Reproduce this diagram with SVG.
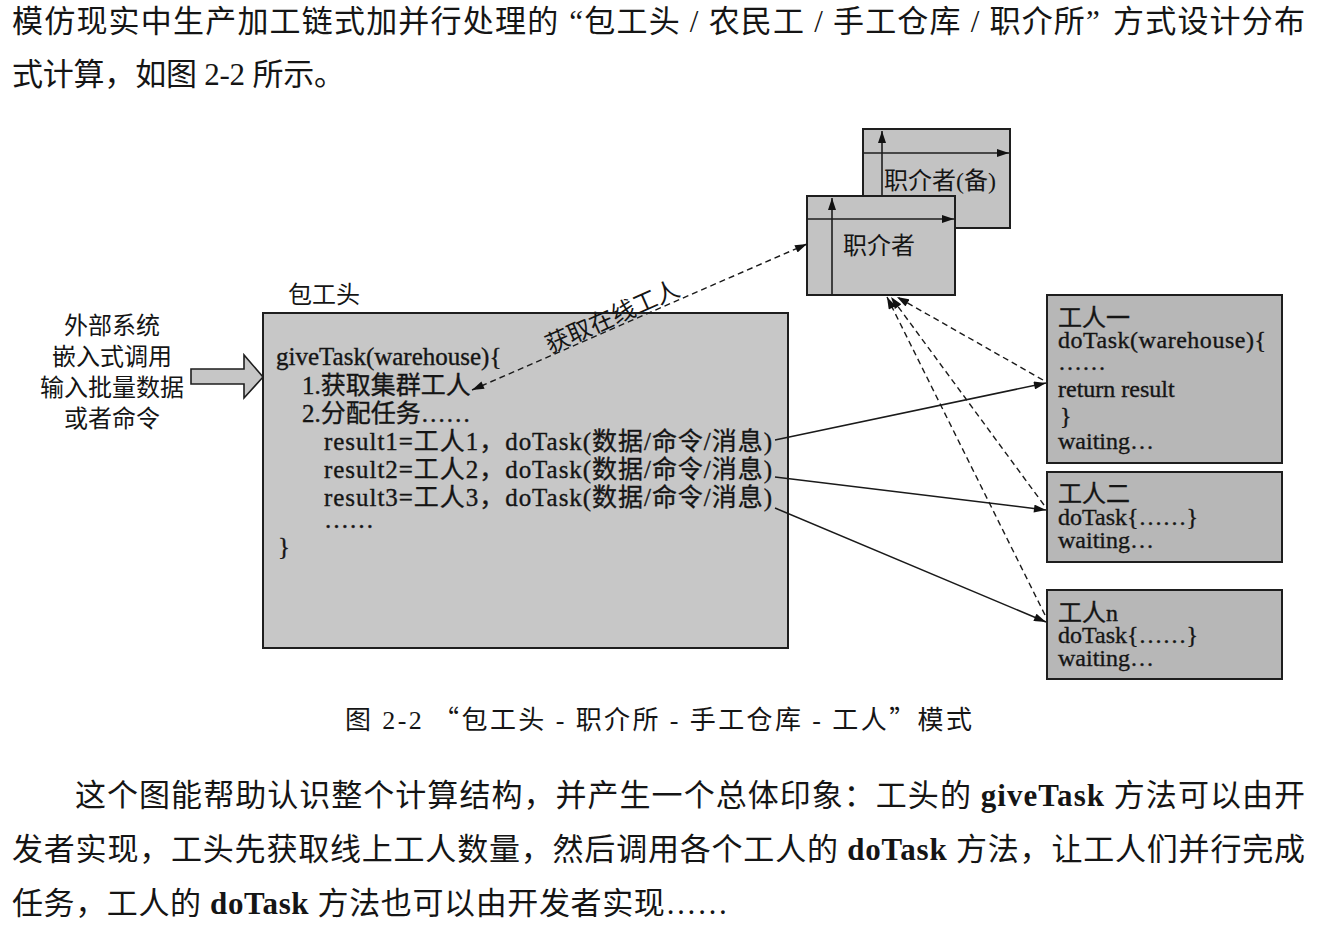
<svg xmlns="http://www.w3.org/2000/svg" width="1338" height="925" viewBox="0 0 1338 925">
<defs>
<marker id="ah" viewBox="0 0 12 8" refX="12" refY="4" markerWidth="13" markerHeight="8" markerUnits="userSpaceOnUse" orient="auto-start-reverse">
<path d="M0,0 L12,4 L0,8 z" fill="#111"/>
</marker>
<style>
text{font-family:"Liberation Serif","Noto Sans CJK SC",serif;fill:#151515;}
.page{font-size:31px;}
.cap{font-size:26px;}
.code{font-size:25px;stroke:#151515;stroke-width:0.35;}
.wk{font-size:24px;stroke:#151515;stroke-width:0.35;}
.lbl{font-size:24px;}
.q{font-family:"Noto Sans CJK SC",sans-serif;}
.b{font-weight:bold;}
.box{fill:#c7c7c7;stroke:#1e1e1e;stroke-width:2;}
.wbox{fill:#b7b7b7;stroke:#1e1e1e;stroke-width:2;}
.jbox{fill:#c3c3c3;stroke:#1e1e1e;stroke-width:2;}
.inner{stroke:#1e1e1e;stroke-width:1.6;fill:none;}
.solid{stroke:#1a1a1a;stroke-width:1.5;fill:none;}
.dash{stroke:#1a1a1a;stroke-width:1.4;fill:none;stroke-dasharray:6 4;}
</style>
</defs>
<rect width="1338" height="925" fill="#fff"/>

<g id="page-text">
<text class="page" x="12" y="32" textLength="1293" lengthAdjust="spacing">模仿现实中生产加工链式加并行处理的<tspan dx="10">“</tspan>包工头 / 农民工 / 手工仓库 / 职介所”<tspan dx="12">方式设计分布</tspan></text>
<text class="page" x="12" y="85" textLength="333" lengthAdjust="spacing">式计算，如图 2-2 所示。</text>
<text class="cap" x="345" y="729" textLength="627" lengthAdjust="spacing">图 2-2  <tspan class="q">“</tspan>包工头 - 职介所 - 手工仓库 - 工人<tspan class="q">”</tspan>模式</text>
<text class="page" x="75" y="806" textLength="1230" lengthAdjust="spacing">这个图能帮助认识整个计算结构，并产生一个总体印象：工头的 <tspan class="b">giveTask</tspan> 方法可以由开</text>
<text class="page" x="12" y="860" textLength="1293" lengthAdjust="spacing">发者实现，工头先获取线上工人数量，然后调用各个工人的 <tspan class="b">doTask</tspan> 方法，让工人们并行完成</text>
<text class="page" x="12" y="914" textLength="716" lengthAdjust="spacing">任务，工人的 <tspan class="b">doTask</tspan> 方法也可以由开发者实现……</text>
</g>

<g id="node-input">
<text class="lbl" x="112" y="334" text-anchor="middle">外部系统</text>
<text class="lbl" x="112" y="365" text-anchor="middle">嵌入式调用</text>
<text class="lbl" x="112" y="396" text-anchor="middle">输入批量数据</text>
<text class="lbl" x="112" y="427" text-anchor="middle">或者命令</text>
<polygon points="191,369 244,369 244,355 263,377 244,398 244,384 191,384" fill="#c6c6c6" stroke="#1e1e1e" stroke-width="1.6"/>
</g>

<g id="node-baogongtou">
<text class="lbl" x="288" y="303">包工头</text>
<rect class="box" x="263" y="313" width="525" height="335"/>
<text class="code"><tspan x="276" y="365">giveTask(warehouse){</tspan><tspan x="302" y="394">1.获取集群工人</tspan><tspan x="302" y="422">2.分配任务……</tspan><tspan x="324" y="450" textLength="448" lengthAdjust="spacing">result1=工人1，doTask(数据/命令/消息)</tspan><tspan x="324" y="478" textLength="448" lengthAdjust="spacing">result2=工人2，doTask(数据/命令/消息)</tspan><tspan x="324" y="506" textLength="448" lengthAdjust="spacing">result3=工人3，doTask(数据/命令/消息)</tspan><tspan x="324" y="528">……</tspan><tspan x="278" y="555">}</tspan></text>
</g>

<g id="node-zhijie-bei">
<rect class="jbox" x="863" y="129" width="147" height="99"/>
<line class="inner" x1="882" y1="228" x2="882" y2="131" marker-end="url(#ah)"/>
<line class="inner" x1="863" y1="153" x2="1009" y2="153" marker-end="url(#ah)"/>
<text class="lbl" x="884" y="189">职介者(备)</text>
</g>

<g id="node-zhijie">
<rect class="jbox" x="807" y="196" width="148" height="99"/>
<line class="inner" x1="832" y1="295" x2="832" y2="198" marker-end="url(#ah)"/>
<line class="inner" x1="807" y1="219" x2="954" y2="219" marker-end="url(#ah)"/>
<text class="lbl" x="843" y="254">职介者</text>
</g>

<g id="node-worker1">
<rect class="wbox" x="1047" y="295" width="235" height="168"/>
<text class="wk"><tspan x="1058" y="326">工人一</tspan><tspan x="1058" y="348" textLength="208" lengthAdjust="spacing">doTask(warehouse){</tspan><tspan x="1058" y="370">……</tspan><tspan x="1058" y="397">return result</tspan><tspan x="1060" y="424">}</tspan><tspan x="1058" y="449">waiting…</tspan></text>
</g>

<g id="node-worker2">
<rect class="wbox" x="1047" y="472" width="235" height="90"/>
<text class="wk"><tspan x="1058" y="502">工人二</tspan><tspan x="1058" y="525">doTask{……}</tspan><tspan x="1058" y="548">waiting…</tspan></text>
</g>

<g id="node-workern">
<rect class="wbox" x="1047" y="590" width="235" height="89"/>
<text class="wk"><tspan x="1058" y="621">工人n</tspan><tspan x="1058" y="643">doTask{……}</tspan><tspan x="1058" y="666">waiting…</tspan></text>
</g>

<g id="connectors">
<line class="dash" x1="472" y1="390" x2="807" y2="244" marker-start="url(#ah)" marker-end="url(#ah)"/>
<text class="lbl" transform="translate(612,316) rotate(-24)" x="0" y="9" text-anchor="middle">获取在线工人</text>
<line class="solid" x1="775" y1="440" x2="1046" y2="383" marker-end="url(#ah)"/>
<line class="solid" x1="775" y1="477" x2="1046" y2="510" marker-end="url(#ah)"/>
<line class="solid" x1="775" y1="508" x2="1046" y2="622" marker-end="url(#ah)"/>
<line class="dash" x1="1043" y1="380" x2="897" y2="297" marker-end="url(#ah)"/>
<line class="dash" x1="1044" y1="505" x2="891" y2="297" marker-end="url(#ah)"/>
<line class="dash" x1="1045" y1="615" x2="887" y2="297" marker-end="url(#ah)"/>
</g>
</svg>
